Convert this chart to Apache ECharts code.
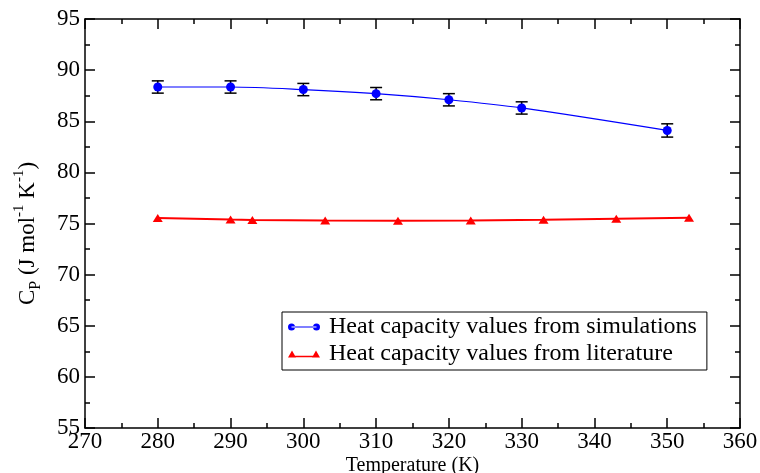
<!DOCTYPE html>
<html>
<head>
<meta charset="utf-8">
<title>Heat capacity</title>
<script src="https://cdn.jsdelivr.net/npm/echarts@6/dist/echarts.min.js"></script>
<style>
  html, body { margin: 0; padding: 0; background: #fff; }
  #main { width: 760px; height: 473px; }
</style>
</head>
<body>
<div id="main"></div>
<script>
// data
const simTemps = [280, 290, 300, 310, 320, 330, 350];
const simCp = [88.35, 88.35, 88.1, 87.7, 87.1, 86.3, 84.1];
const simErr = [0.6, 0.6, 0.6, 0.6, 0.6, 0.6, 0.65];

const litTemps = [280, 290, 293, 303, 313, 323, 333, 343, 353];
const litCp = [75.55, 75.38, 75.35, 75.3, 75.28, 75.3, 75.37, 75.46, 75.57];

const xTicks = { min: 270, max: 360, interval: 10 };
const yTicks = { min: 55, max: 95, interval: 5 };

const simName = 'Heat capacity values from simulations';
const litName = 'Heat capacity values from literature';

const font = 'Liberation Serif';

const simPts = simTemps.map((t, i) => [t, simCp[i]]);
const litPts = litTemps.map((t, i) => [t, litCp[i]]);
const errPts = simTemps.map((t, i) => [t, simCp[i] - simErr[i], simCp[i] + simErr[i]]);

// legend icons: line with a marker at each end (xmgrace style)
const simIcon = 'path://M3.5,3H28.5V4H3.5Z M0,3.5A3.5,3.5,0,1,0,7,3.5A3.5,3.5,0,1,0,0,3.5Z M25,3.5A3.5,3.5,0,1,0,32,3.5A3.5,3.5,0,1,0,25,3.5Z';
const litIcon = 'path://M4,5.2H28V6.8H4Z M0,7L4,0L8,7Z M24,7L28,0L32,7Z';

let myChart = echarts.init(document.getElementById('main'));

const frameTick = (len) => ({ show: true, inside: true, length: len, lineStyle: { color: '#000', width: 1.5 } });
const minor = { show: true, splitNumber: 2, length: 5, lineStyle: { color: '#000', width: 1.5 } };

let option = {
  animation: false,
  textStyle: { fontFamily: font },
  grid: {
    left: 85,
    right: 20,
    top: 19,
    bottom: 45,
    outerBoundsMode: 'none',
  },
  legend: {
    orient: 'vertical',
    left: 282,
    top: 312,
    padding: [3, 10, 4, 6],
    itemGap: 3,
    itemWidth: 32,
    itemHeight: 7,
    borderColor: '#000',
    borderWidth: 1,
    textStyle: { fontFamily: font, fontSize: 24, color: '#000', padding: [0, 0, 0, 4] },
    data: [
      { name: simName, icon: simIcon },
      { name: litName, icon: litIcon },
    ],
  },
  xAxis: [
    {
      type: 'value',
      min: xTicks.min,
      max: xTicks.max,
      interval: xTicks.interval,
      name: 'Temperature (K)',
      nameLocation: 'middle',
      nameGap: 28,
      nameMoveOverlap: false,
      nameTextStyle: { fontFamily: font, fontSize: 20, color: '#000' },
      axisLine: { show: true, onZero: false, lineStyle: { color: '#000', width: 1.5 } },
      axisTick: frameTick(10),
      minorTick: minor,
      axisLabel: { fontFamily: font, fontSize: 23, color: '#000', margin: 2 },
      splitLine: { show: false },
    },
    {
      // top frame
      type: 'value',
      position: 'top',
      min: xTicks.min,
      max: xTicks.max,
      interval: xTicks.interval,
      axisLine: { show: true, onZero: false, lineStyle: { color: '#000', width: 1.5 } },
      axisTick: frameTick(10),
      minorTick: minor,
      axisLabel: { show: false },
      splitLine: { show: false },
    },
  ],
  yAxis: [
    {
      type: 'value',
      min: yTicks.min,
      max: yTicks.max,
      interval: yTicks.interval,
      name: '{a|C}{sub|P}{a| (J mol}{sup|-1}{a| K}{sup|-1}{a|)}',
      nameLocation: 'middle',
      nameRotate: 90,
      nameGap: 41,
      nameTextStyle: {
        fontFamily: font,
        color: '#000',
        padding: [0, 0, 0, -20],
        rich: {
          a: { fontFamily: font, fontSize: 23, color: '#000', lineHeight: 32, verticalAlign: 'middle' },
          sub: { fontFamily: font, fontSize: 16, color: '#000', lineHeight: 32, verticalAlign: 'bottom' },
          sup: { fontFamily: font, fontSize: 15, color: '#000', lineHeight: 32, verticalAlign: 'top' },
        },
      },
      axisLine: { show: true, onZero: false, lineStyle: { color: '#000', width: 1.5 } },
      axisTick: frameTick(10),
      minorTick: minor,
      axisLabel: { fontFamily: font, fontSize: 23, color: '#000', margin: 5 },
      splitLine: { show: false },
    },
    {
      // right frame
      type: 'value',
      position: 'right',
      min: yTicks.min,
      max: yTicks.max,
      interval: yTicks.interval,
      axisLine: { show: true, onZero: false, lineStyle: { color: '#000', width: 1.5 } },
      axisTick: frameTick(10),
      minorTick: minor,
      axisLabel: { show: false },
      splitLine: { show: false },
    },
  ],
  series: [
    {
      name: 'err',
      type: 'custom',
      z: 1,
      silent: true,
      data: errPts,
      renderItem: function (params, api) {
        const lo = api.coord([api.value(0), api.value(1)]);
        const hi = api.coord([api.value(0), api.value(2)]);
        const w = 6;
        const st = { stroke: '#000', lineWidth: 1.5 };
        return {
          type: 'group',
          children: [
            { type: 'line', shape: { x1: lo[0], y1: lo[1], x2: hi[0], y2: hi[1] }, style: st },
            { type: 'line', shape: { x1: lo[0] - w, y1: lo[1], x2: lo[0] + w, y2: lo[1] }, style: st },
            { type: 'line', shape: { x1: hi[0] - w, y1: hi[1], x2: hi[0] + w, y2: hi[1] }, style: st },
          ],
        };
      },
    },
    {
      name: simName,
      type: 'line',
      z: 3,
      data: simPts,
      smooth: 0.3,
      symbol: 'circle',
      symbolSize: 9,
      itemStyle: { color: '#0000ff' },
      lineStyle: { color: '#0000ff', width: 1.2 },
    },
    {
      name: litName,
      type: 'line',
      z: 2,
      data: litPts,
      symbol: 'triangle',
      symbolSize: [10, 8],
      itemStyle: { color: '#ff0000' },
      lineStyle: { color: '#ff0000', width: 2 },
    },
  ],
};

myChart.setOption(option, true);
</script>
</body>
</html>
